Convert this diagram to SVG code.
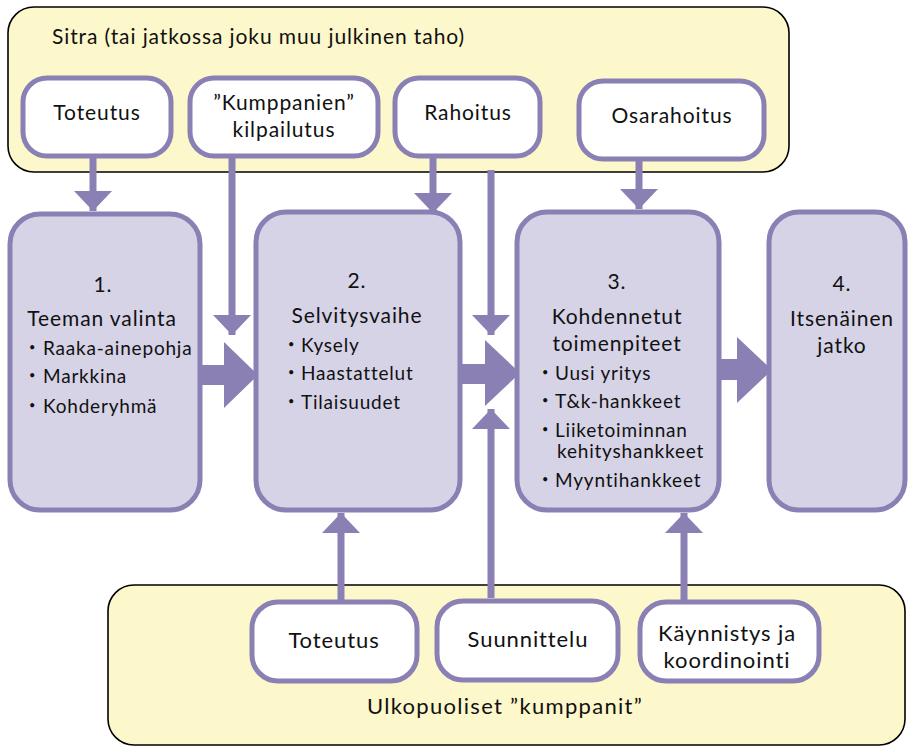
<svg xmlns="http://www.w3.org/2000/svg" width="911" height="748" viewBox="0 0 911 748">
<defs>
<style>
.panel{fill:#fdf8cb;stroke:#000;stroke-width:1.6}
.wbox{fill:#fff;stroke:#8a80b4;stroke-width:5}
.pbox{fill:#d6d3e7;stroke:#8a80b4;stroke-width:5}
.ln{stroke:#8a80b4;stroke-width:7;fill:none}
.blk{fill:#8a80b4}
text{font-family:"Lato","Open Sans","Liberation Sans",sans-serif;font-size:21px;letter-spacing:0.9px;fill:#111}
.c{text-anchor:middle}
.b{font-size:19px;letter-spacing:0.8px}
.d{font-size:11px;letter-spacing:0}
.u{font-size:22px;letter-spacing:0.9px}
</style>
<marker id="ah" markerUnits="userSpaceOnUse" markerWidth="20" markerHeight="38" refX="20" refY="19" orient="auto" viewBox="0 0 20 38">
<path d="M0,0 L20,19 L0,38 z" fill="#8a80b4"/>
</marker>
</defs>
<g id="sitra">
<rect class="panel" x="8" y="7" width="781" height="165" rx="26"/>
<text x="52" y="44">Sitra (tai jatkossa joku muu julkinen taho)</text>
</g>
<g id="ulkopuoliset">
<rect class="panel" x="108" y="585" width="797" height="160" rx="26"/>
<text class="c u" x="505" y="714" style="letter-spacing:1.3px">Ulkopuoliset ”kumppanit”</text>
</g>
<g id="connectors">
<path class="ln" marker-end="url(#ah)" d="M93,157 V211"/>
<path class="ln" marker-end="url(#ah)" d="M232,157 V335"/>
<path class="ln" marker-end="url(#ah)" d="M433,157 V213"/>
<path class="ln" marker-end="url(#ah)" d="M491,170 V335"/>
<path class="ln" marker-end="url(#ah)" d="M639,160 V209"/>
<path class="ln" marker-end="url(#ah)" d="M341,601 V513"/>
<path class="ln" marker-end="url(#ah)" d="M491,598 V409"/>
<path class="ln" marker-end="url(#ah)" d="M684,601 V513"/>
<polygon class="blk" points="200,365 224,365 224,342 258,375 224,408 224,385 200,385"/>
<polygon class="blk" points="460,364 485,364 485,340 520,373 485,406 485,384 460,384"/>
<polygon class="blk" points="718,359 737,359 737,337 772,370 737,403 737,380 718,380"/>
</g>
<g id="t-toteutus">
<rect class="wbox" x="23" y="78" width="148" height="78" rx="24"/>
<text class="c" x="97" y="120">Toteutus</text>
</g>
<g id="t-kumppanien">
<rect class="wbox" x="190" y="78" width="188" height="78" rx="24"/>
<text class="c" x="284" y="110">”Kumppanien”</text>
<text class="c" x="284" y="137">kilpailutus</text>
</g>
<g id="t-rahoitus">
<rect class="wbox" x="395" y="78" width="145" height="78" rx="24"/>
<text class="c" x="468" y="120">Rahoitus</text>
</g>
<g id="t-osarahoitus">
<rect class="wbox" x="579" y="81" width="185" height="78" rx="24"/>
<text class="c" x="672" y="123">Osarahoitus</text>
</g>
<g id="s1">
<rect class="pbox" x="10" y="214" width="190" height="296" rx="30"/>
<text class="c" x="103" y="292">1.</text>
<text class="c" x="102" y="326">Teeman valinta</text>
<text class="d" x="29" y="351">•</text><text class="b" x="43" y="355">Raaka-ainepohja</text>
<text class="d" x="29" y="379">•</text><text class="b" x="43" y="383">Markkina</text>
<text class="d" x="29" y="409">•</text><text class="b" x="43" y="413">Kohderyhmä</text>
</g>
<g id="s2">
<rect class="pbox" x="256" y="212" width="204" height="298" rx="30"/>
<text class="c" x="357" y="288">2.</text>
<text class="c" x="357" y="323">Selvitysvaihe</text>
<text class="d" x="288" y="348">•</text><text class="b" x="301" y="352">Kysely</text>
<text class="d" x="288" y="376">•</text><text class="b" x="301" y="380">Haastattelut</text>
<text class="d" x="288" y="405">•</text><text class="b" x="301" y="409">Tilaisuudet</text>
</g>
<g id="s3">
<rect class="pbox" x="517" y="212" width="202" height="298" rx="30"/>
<text class="c" x="617" y="289">3.</text>
<text class="c" x="617" y="324">Kohdennetut</text>
<text class="c" x="617" y="351">toimenpiteet</text>
<text class="d" x="542" y="376">•</text><text class="b" x="555" y="380">Uusi yritys</text>
<text class="d" x="542" y="404">•</text><text class="b" x="555" y="408">T&amp;k-hankkeet</text>
<text class="d" x="542" y="433">•</text><text class="b" x="555" y="437">Liiketoiminnan</text>
<text class="b" x="557" y="458">kehityshankkeet</text>
<text class="d" x="542" y="483">•</text><text class="b" x="555" y="487">Myyntihankkeet</text>
</g>
<g id="s4">
<rect class="pbox" x="769" y="212" width="136" height="298" rx="30"/>
<text class="c" x="842" y="291">4.</text>
<text class="c" x="842" y="326">Itsenäinen</text>
<text class="c" x="842" y="353">jatko</text>
</g>
<g id="u-toteutus">
<rect class="wbox" x="252" y="602" width="165" height="79" rx="26"/>
<text class="c u" x="334" y="648">Toteutus</text>
</g>
<g id="u-suunnittelu">
<rect class="wbox" x="437" y="601" width="181" height="79" rx="26"/>
<text class="c u" x="528" y="647">Suunnittelu</text>
</g>
<g id="u-kaynnistys">
<rect class="wbox" x="640" y="602" width="179" height="79" rx="26"/>
<text class="c u" x="727" y="641">Käynnistys ja</text>
<text class="c u" x="727" y="668">koordinointi</text>
</g>
</svg>
